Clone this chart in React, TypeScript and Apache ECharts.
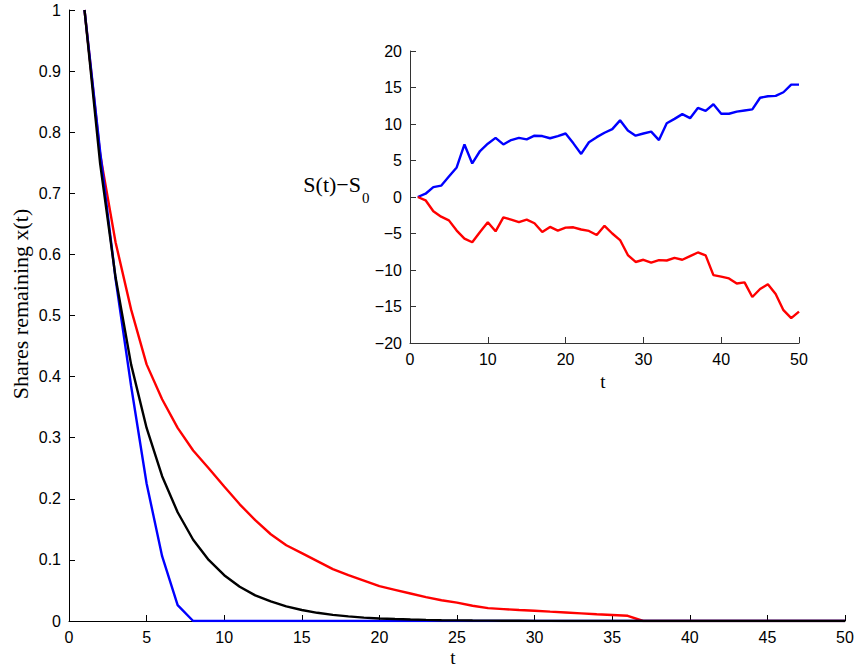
import React, { useEffect, useRef } from "react";
import * as echarts from "echarts";

// time steps
const steps = [1,2,3,4,5,6,7,8,9,10,11,12,13,14,15,16,17,18,19,20,21,22,23,24,25,26,27,28,29,30,31,32,33,34,35,36,37,38,39,40,41,42,43,44,45,46,47,48,49,50];

// main panel: shares remaining x(t)
const blueShares = [1,0.77,0.56,0.385,0.225,0.106,0.026,0,0,0,0,0,0,0,0,0,0,0,0,0,0,0,0,0,0,0,0,0,0,0,0,0,0,0,0,0,0,0,0,0,0,0,0,0,0,0,0,0,0,0];
const blackShares = [1,0.75,0.5625,0.42,0.316,0.237,0.178,0.133,0.1,0.075,0.056,0.042,0.032,0.024,0.018,0.0134,0.01,0.0075,0.0056,0.0042,0.0032,0.0024,0.0018,0.0013,0.001,0.00075,0.00056,0.00042,0.0003,0.0002,0.0002,0.0001,0.0001,0.0001,0,0,0,0,0,0,0,0,0,0,0,0,0,0,0,0];
const redShares = [1,0.765,0.62,0.51,0.42,0.363,0.316,0.279,0.25,0.22,0.191,0.165,0.142,0.124,0.111,0.098,0.085,0.075,0.066,0.057,0.051,0.045,0.039,0.034,0.03,0.025,0.021,0.0195,0.018,0.0167,0.0153,0.014,0.0125,0.011,0.0098,0.0085,0,0,0,0,0,0,0,0,0,0,0,0,0,0];

// inset: S(t) - S0
const blueS = [0,0.45,1.36,1.55,2.8,4.05,7.2,4.6,6.3,7.3,8.1,7.2,7.8,8.1,7.9,8.4,8.35,8.05,8.35,8.7,7.35,5.9,7.5,8.2,8.8,9.3,10.5,9.1,8.4,8.7,8.95,7.8,10.1,10.7,11.35,10.8,12.2,11.8,12.7,11.4,11.4,11.7,11.85,12.0,13.6,13.8,13.85,14.35,15.4,15.4];
const redS = [0,-0.45,-1.95,-2.7,-3.2,-4.6,-5.7,-6.2,-4.8,-3.45,-4.7,-2.8,-3.1,-3.45,-3.1,-3.6,-4.8,-4.1,-4.6,-4.2,-4.15,-4.45,-4.65,-5.2,-3.95,-5.0,-5.9,-7.95,-8.9,-8.6,-9.0,-8.65,-8.7,-8.35,-8.6,-8.1,-7.6,-8.0,-10.7,-10.9,-11.15,-11.85,-11.7,-13.7,-12.6,-11.95,-13.3,-15.5,-16.6,-15.7];

const SANS = "Liberation Sans, Arial, Helvetica, sans-serif";
const SERIF = "Liberation Serif, Times New Roman, serif";

const pairs = (ys: number[]) => steps.map((t, i) => [t, ys[i]]);

export default function App() {
  const ref = useRef<HTMLDivElement>(null);
  useEffect(() => {
    if (!ref.current) return;
    const chart = echarts.init(ref.current, undefined, { renderer: "svg" });
    const axisCommon = (color: string) => ({
      axisLine: { show: true, onZero: false, lineStyle: { color, width: 1 } },
      axisTick: { show: true, inside: true, length: 6, lineStyle: { color } },
      splitLine: { show: false },
      axisLabel: { color: "#000", fontFamily: SANS, fontSize: 16 },
    });
    chart.setOption({
      animation: false,
      backgroundColor: "#fff",
      grid: [
        { left: 69, top: 10, width: 776, height: 611, containLabel: false },
        { left: 410, top: 51, width: 389, height: 292, containLabel: false },
      ],
      xAxis: [
        {
          gridIndex: 0, type: "value", min: 0, max: 50, interval: 5,
          ...axisCommon("#000"),
          axisLabel: { color: "#000", fontFamily: SANS, fontSize: 16, margin: 8 },
        },
        {
          gridIndex: 1, type: "value", min: 0, max: 50, interval: 10,
          ...axisCommon("#333"),
          axisLabel: { color: "#000", fontFamily: SANS, fontSize: 16, margin: 8 },
        },
      ],
      yAxis: [
        {
          gridIndex: 0, type: "value", min: 0, max: 1, interval: 0.1,
          ...axisCommon("#000"),
          axisLabel: {
            color: "#000", fontFamily: SANS, fontSize: 16, margin: 8,
            formatter: (v: number) => String(Math.round(v * 10) / 10),
          },
        },
        {
          gridIndex: 1, type: "value", min: -20, max: 20, interval: 5,
          ...axisCommon("#333"),
          axisLabel: {
            color: "#000", fontFamily: SANS, fontSize: 16, margin: 8,
            formatter: (v: number) => String(v).replace("-", "\u2212"),
          },
        },
      ],
      series: [
        { type: "line", xAxisIndex: 0, yAxisIndex: 0, data: pairs(redShares), showSymbol: false, lineStyle: { color: "#ff0000", width: 2.4 }, z: 2 },
        { type: "line", xAxisIndex: 0, yAxisIndex: 0, data: pairs(blueShares), showSymbol: false, lineStyle: { color: "#0000ff", width: 2.4 }, z: 3 },
        { type: "line", xAxisIndex: 0, yAxisIndex: 0, data: pairs(blackShares), showSymbol: false, lineStyle: { color: "#000000", width: 2.4 }, z: 4 },
        { type: "line", xAxisIndex: 1, yAxisIndex: 1, data: pairs(blueS), showSymbol: false, lineStyle: { color: "#0000ff", width: 2.4 }, z: 3 },
        { type: "line", xAxisIndex: 1, yAxisIndex: 1, data: pairs(redS), showSymbol: false, lineStyle: { color: "#ff0000", width: 2.4 }, z: 3 },
      ],
      graphic: [
        { type: "text", x: 20, y: 304, rotation: Math.PI / 2, style: { text: "Shares remaining x(t)", font: `22px ${SERIF}`, fill: "#000", textAlign: "center", textVerticalAlign: "middle" } },
        { type: "text", x: 453, y: 657, style: { text: "t", font: `19px ${SERIF}`, fill: "#000", textAlign: "center", textVerticalAlign: "middle" } },
        { type: "text", x: 603, y: 381, style: { text: "t", font: `19px ${SERIF}`, fill: "#000", textAlign: "center", textVerticalAlign: "middle" } },
        { type: "text", x: 361, y: 184, style: { text: "S(t)\u2212S", font: `22px ${SERIF}`, fill: "#000", textAlign: "right", textVerticalAlign: "middle" } },
        { type: "text", x: 362, y: 198, style: { text: "0", font: `15px ${SERIF}`, fill: "#000", textAlign: "left", textVerticalAlign: "middle" } },
      ],
    });
    return () => chart.dispose();
  }, []);
  return <div ref={ref} style={{ width: 858, height: 669, position: "absolute", left: 0, top: 0 }} />;
}
